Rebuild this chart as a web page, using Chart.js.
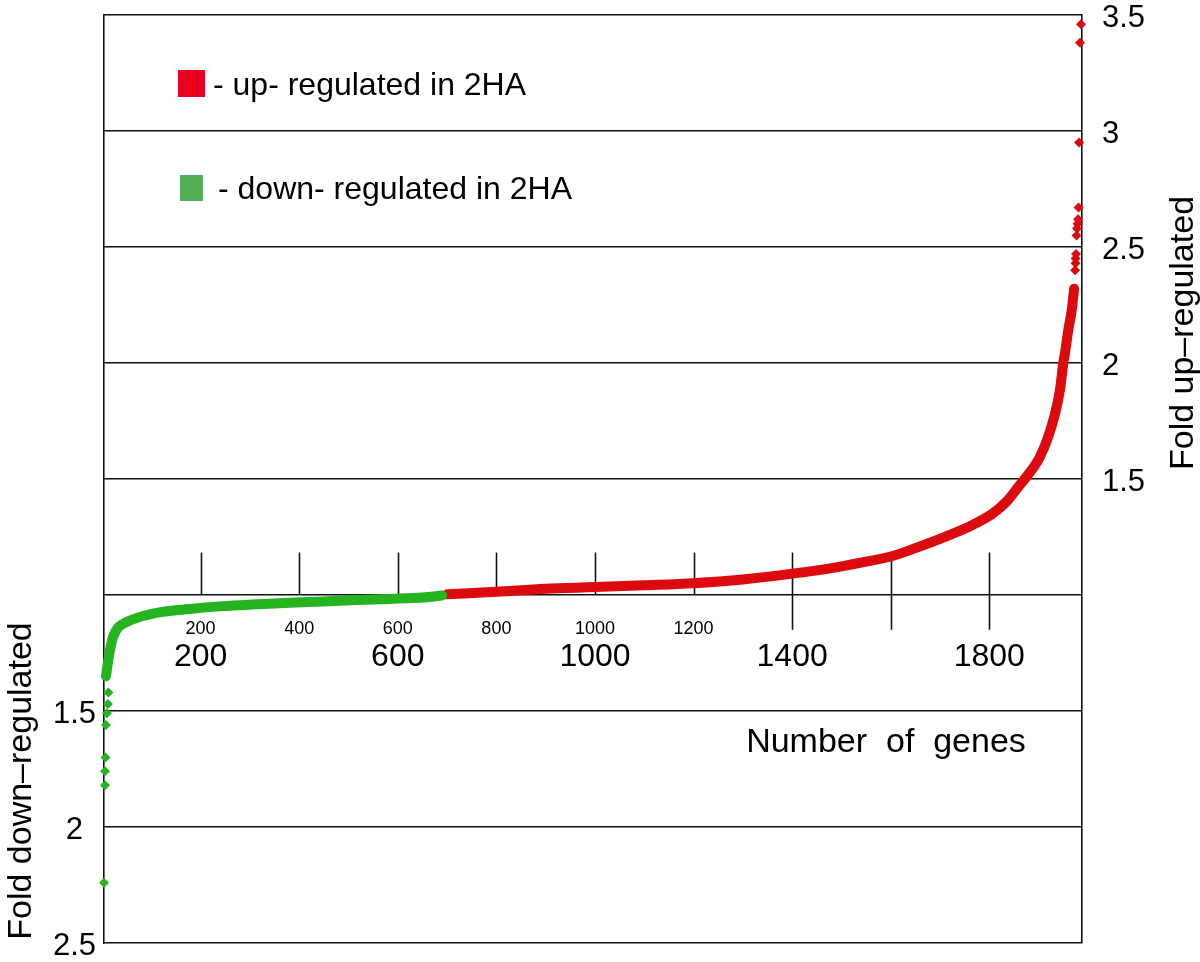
<!DOCTYPE html>
<html>
<head>
<meta charset="utf-8">
<script src="https://cdn.jsdelivr.net/npm/chart.js@4"></script>
<style>
  html, body { margin: 0; padding: 0; background: #fff; }
  #wrap { width: 1200px; height: 962px; }
</style>
</head>
<body>
<div id="wrap"><canvas id="foldChart" width="1200" height="962"></canvas></div>
<script>
// 하향 조절 유전자 (fold down) - 밴드 부분
const greenGenes = [8, 12, 16, 21, 28, 35, 42, 62, 110, 178, 245, 313, 380, 448, 516, 583, 651, 690];
const greenFold = [1.35, 1.29, 1.24, 1.19, 1.155, 1.135, 1.125, 1.105, 1.077, 1.06, 1.048, 1.04, 1.033, 1.028, 1.022, 1.017, 1.011, 1.002];
// 하향 조절 - 따로 떨어진 점
const greenOutGenes = [4, 6, 6, 7, 8, 10, 12, 13];
const greenOutFold = [2.24, 1.82, 1.76, 1.70, 1.56, 1.51, 1.47, 1.42];

// 상향 조절 유전자 (fold up) - 밴드 부분
const redGenes = [700, 800, 900, 1000, 1100, 1200, 1300, 1400, 1480, 1550, 1600, 1650, 1720, 1767, 1808, 1835, 1862, 1882, 1902, 1919, 1933, 1943, 1950, 1954, 1960, 1967, 1972];
const redFold = [1.003, 1.014, 1.027, 1.034, 1.042, 1.051, 1.067, 1.092, 1.116, 1.144, 1.166, 1.202, 1.259, 1.303, 1.353, 1.403, 1.475, 1.528, 1.593, 1.679, 1.779, 1.88, 2.0, 2.05, 2.14, 2.226, 2.32];
// 상향 조절 - 따로 떨어진 점
const redOutGenes = [1974, 1975, 1975, 1976, 1977, 1978, 1979, 1980, 1981, 1982, 1984, 1986];
const redOutFold = [2.40, 2.43, 2.45, 2.47, 2.55, 2.58, 2.60, 2.62, 2.67, 2.95, 3.38, 3.46];

// 축 눈금
const yTicksUp = [1.5, 2, 2.5, 3, 3.5];
const yTicksDown = [1.5, 2, 2.5];
const smallTickLabels = [200, 400, 600, 800, 1000, 1200];
const bigTickLabels = [200, 600, 1000, 1400, 1800];
const tickMarks = [200, 400, 600, 800, 1000, 1200, 1400, 1600, 1800];

const FONT = '"Liberation Sans", Arial, sans-serif';

// fold down 값은 1 아래쪽으로 그린다 (2 - fold)
function toPoints(genes, folds, down) {
    return genes.map((g, i) => ({ x: g, y: down ? 2 - folds[i] : folds[i] }));
}

// 축 라벨 때문에 생기는 위/아래 여백 제거
function fixAxisWidth(width) {
    return function(scale) {
        scale.width = width;
        scale.paddingTop = 0;
        scale.paddingBottom = 0;
    };
}

// 빈 첫 줄을 넣어 라벨을 몇 px 아래로 내림
function tickLabel(text) {
    return text === '' ? '' : ['', text];
}

// 차트 안쪽 라벨, 눈금선, 범례
const overlayPlugin = {
    id: 'overlay',
    beforeDatasetsDraw(chart) {
        const ctx = chart.ctx;
        const xs = chart.scales.x;
        const ys = chart.scales.yR;
        ctx.save();
        ctx.strokeStyle = '#111';
        ctx.lineWidth = 1.6;
        tickMarks.forEach(t => {
            const px = Math.round(xs.getPixelForValue(t)) + 0.5;
            ctx.beginPath();
            ctx.moveTo(px, ys.getPixelForValue(1.183));
            ctx.lineTo(px, ys.getPixelForValue(t >= 1400 ? 0.85 : 1));
            ctx.stroke();
        });
        ctx.restore();
    },
    afterDraw(chart) {
        const ctx = chart.ctx;
        const xs = chart.scales.x;
        const zeroY = chart.scales.yR.getPixelForValue(1);
        ctx.save();
        ctx.fillStyle = '#000';
        ctx.textAlign = 'center';
        ctx.textBaseline = 'middle';

        ctx.font = '18px ' + FONT;
        smallTickLabels.forEach(v => ctx.fillText(String(v), xs.getPixelForValue(v), zeroY + 34));
        ctx.font = '32px ' + FONT;
        bigTickLabels.forEach(v => ctx.fillText(String(v), xs.getPixelForValue(v), zeroY + 62));

        // x축 제목
        ctx.font = '34px ' + FONT;
        ctx.fillText('Number  of  genes', 886, 743);

        // y축 제목 (회전)
        ctx.save();
        ctx.translate(1184, 333);
        ctx.rotate(-Math.PI / 2);
        ctx.fillText('Fold up\u2013regulated', 0, 0);
        ctx.restore();
        ctx.save();
        ctx.translate(22, 781);
        ctx.rotate(-Math.PI / 2);
        ctx.fillText('Fold down\u2013regulated', 0, 0);
        ctx.restore();

        // 범례
        ctx.textAlign = 'left';
        ctx.fillStyle = '#e6001e';
        ctx.fillRect(178, 70, 27, 27);
        ctx.fillStyle = '#55ad57';
        ctx.fillRect(180, 175, 23, 26);
        ctx.fillStyle = '#000';
        ctx.font = '32px ' + FONT;
        ctx.fillText('- up- regulated in 2HA', 213, 86);
        ctx.fillText('- down- regulated in 2HA', 218, 190);
        ctx.restore();
    }
};

function initFoldChart() {
    const canvas = document.getElementById('foldChart');
    const ctx = canvas.getContext('2d');

    new Chart(ctx, {
        type: 'scatter',
        data: {
            datasets: [
                {
                    data: toPoints(greenGenes, greenFold, true),
                    yAxisID: 'yR',
                    showLine: true,
                    borderColor: '#25b320',
                    borderWidth: 10,
                    borderCapStyle: 'round',
                    borderJoinStyle: 'round',
                    cubicInterpolationMode: 'monotone',
                    pointRadius: 0,
                    clip: false
                },
                {
                    data: toPoints(greenOutGenes, greenOutFold, true),
                    yAxisID: 'yR',
                    pointStyle: 'rectRot',
                    pointRadius: 5,
                    backgroundColor: '#25b320',
                    borderWidth: 0,
                    clip: false
                },
                {
                    data: toPoints(redGenes, redFold, false),
                    yAxisID: 'yR',
                    showLine: true,
                    borderColor: '#dc0a0f',
                    borderWidth: 10,
                    borderCapStyle: 'round',
                    borderJoinStyle: 'round',
                    cubicInterpolationMode: 'monotone',
                    pointRadius: 0,
                    clip: false
                },
                {
                    data: toPoints(redOutGenes, redOutFold, false),
                    yAxisID: 'yR',
                    pointStyle: 'rectRot',
                    pointRadius: 5,
                    backgroundColor: '#dc0a0f',
                    borderWidth: 0,
                    clip: false
                }
            ]
        },
        options: {
            responsive: false,
            animation: false,
            layout: { padding: { top: 15, bottom: 19, left: 0, right: 0 } },
            plugins: {
                legend: { display: false },
                tooltip: { enabled: false }
            },
            scales: {
                x: {
                    type: 'linear',
                    min: 4,
                    max: 1988,
                    display: false
                },
                yL: {
                    position: 'left',
                    min: -0.5,
                    max: 3.5,
                    grid: { display: false, drawTicks: false },
                    border: { display: true, color: '#111', width: 1.6 },
                    ticks: {
                        stepSize: 0.5,
                        padding: 8,
                        crossAlign: 'center',
                        color: '#000',
                        font: { family: FONT, size: 31, lineHeight: '7px' },
                        callback: function(value) {
                            const f = 2 - value;
                            return tickLabel(yTicksDown.includes(f) ? String(f) : '');
                        }
                    },
                    afterFit: fixAxisWidth(104)
                },
                yR: {
                    position: 'right',
                    min: -0.5,
                    max: 3.5,
                    grid: { color: '#111', lineWidth: 1.6, drawTicks: false },
                    border: { display: true, color: '#111', width: 1.6 },
                    ticks: {
                        stepSize: 0.5,
                        padding: 20,
                        color: '#000',
                        font: { family: FONT, size: 31, lineHeight: '7px' },
                        callback: function(value) {
                            return tickLabel(yTicksUp.includes(value) ? String(value) : '');
                        }
                    },
                    afterFit: fixAxisWidth(118)
                }
            }
        },
        plugins: [overlayPlugin]
    });
}

document.addEventListener('DOMContentLoaded', initFoldChart);
</script>
</body>
</html>
